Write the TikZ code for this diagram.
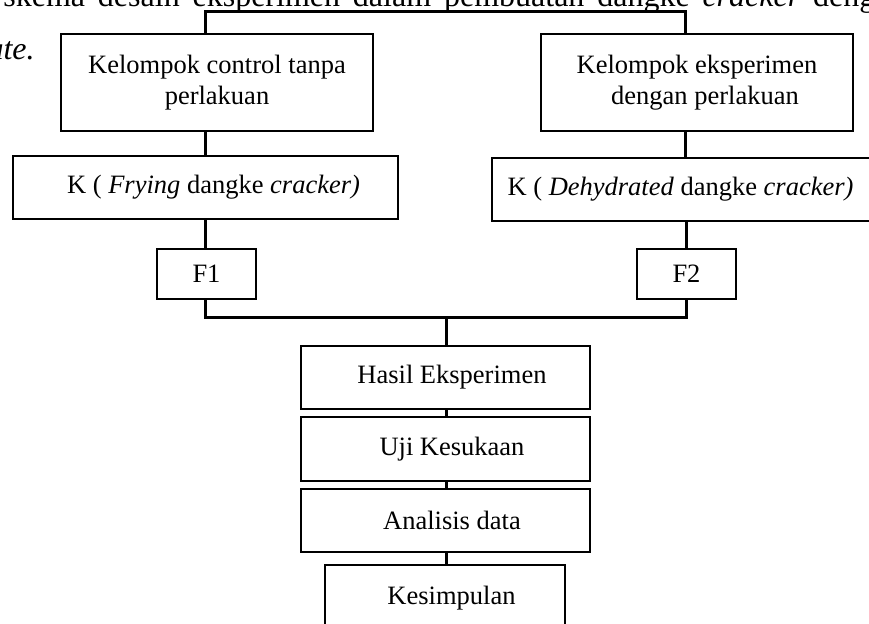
\documentclass[tikz,border=0pt]{standalone}
\usepackage{fontspec}
\setmainfont{Liberation Serif}
\begin{document}
\begin{tikzpicture}[x=0.5pt,y=-0.5pt,
  box/.style={draw, line width=1pt, rectangle, inner sep=0pt, align=center,
    font=\fontsize{13.25}{15.5}\selectfont},
  conn/.style={line width=1.5pt},
  bodytext/.style={inner sep=0pt, font=\fontsize{16}{19}\selectfont}]
\clip (0,0) rectangle (869,624);
\useasboundingbox (0,0) rectangle (869,624);
% clipped paragraph text
\node[bodytext, anchor=base west] (toptext) at (3,7)
  {\makebox[436pt][s]{skema desain eksperimen dalam pembuatan dangke \textit{cracker} deng}};
\node[bodytext, anchor=base east, font=\fontsize{16}{19}\selectfont\itshape] (ute) at (35,60) {ute.};
% boxes
\node[box, minimum width=156pt, minimum height=48.5pt] (b1) at (217,82.5)
  {Kelompok control tanpa\\perlakuan};
\node[box, minimum width=156pt, minimum height=48.5pt] (b2) at (697,82.5)
  {Kelompok eksperimen\\\hspace*{8pt}dengan perlakuan};
\node[box, minimum width=192.5pt, minimum height=31.5pt] (b3) at (205.5,187.5)
  {\hspace*{8pt}K ( \textit{Frying} dangke \textit{cracker)}};
\node[box, line width=0.65pt, minimum width=189.5pt, minimum height=31.5pt] (b4) at (681.5,189.5)
  {K ( \textit{Dehydrated} dangke \textit{cracker)}\hspace*{1pt}};
\node[box, minimum width=49.5pt, minimum height=25pt] (f1) at (206.5,274) {F1};
\node[box, minimum width=49.5pt, minimum height=25pt] (f2) at (686.5,274) {F2};
\node[box, minimum width=144.5pt, minimum height=31.5pt] (hasil) at (445.5,377.5)
  {\hspace*{6.5pt}Hasil Eksperimen};
\node[box, minimum width=144.5pt, minimum height=32pt] (uji) at (445.5,449)
  {\hspace*{6.5pt}Uji Kesukaan};
\node[box, minimum width=144.5pt, minimum height=31.5pt] (anal) at (445.5,520.5)
  {\hspace*{6.5pt}Analisis data};
\node[box, minimum width=120pt, minimum height=33pt] (kes) at (445,598)
  {\hspace*{6.5pt}Kesimpulan};
% connector points
\coordinate (tl) at (205,12);
\coordinate (tr) at (685,12);
\coordinate (bl) at (205,318);
\coordinate (br) at (686,318);
\coordinate (bm) at (446,318);
% connectors
\draw[conn] (tl |- b1.north) -- (tl) -- (tr) -- (tr |- b2.north);
\draw[conn] (b1.south -| tl) -- (b3.north -| tl);
\draw[conn] (b2.south -| tr) -- (b4.north -| tr);
\draw[conn] (b3.south -| tl) -- (f1.north -| tl);
\draw[conn] (b4.south -| br) -- (f2.north -| br);
\draw[conn] (f1.south -| bl) -- (bl) -- (br) -- (f2.south -| br);
\draw[conn] (bm) -- (hasil.north -| bm);
\draw[conn] (hasil.south -| bm) -- (uji.north -| bm);
\draw[conn] (uji.south -| bm) -- (anal.north -| bm);
\draw[conn] (anal.south -| bm) -- (kes.north -| bm);
\end{tikzpicture}
\end{document}
